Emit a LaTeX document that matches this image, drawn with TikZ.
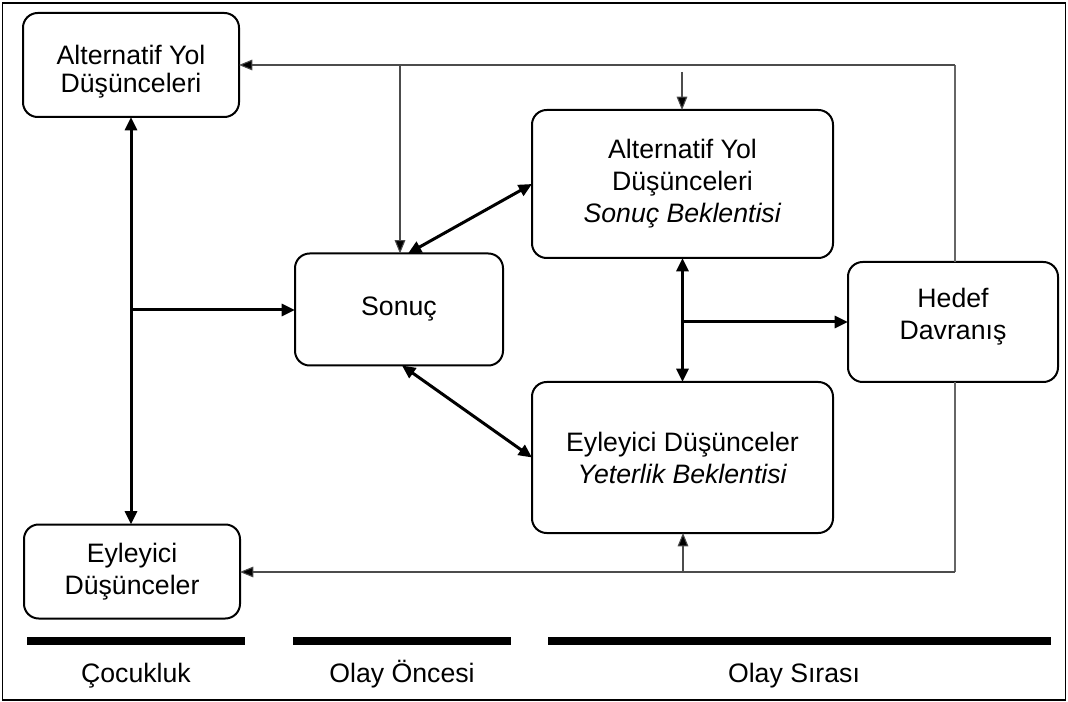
\documentclass[tikz,border=0pt]{standalone}
\usepackage{fontspec}
\setmainfont{Liberation Sans}
\usetikzlibrary{arrows.meta,calc}

\tikzset{
  box/.style={draw, line width=1.5pt, rounded corners=11pt, inner sep=0pt, outer sep=0pt,
              align=center, font=\fontsize{20}{24}\selectfont},
  thick link/.style={line width=2.25pt, {Triangle[length=10pt,width=9pt]}-{Triangle[length=10pt,width=9pt]}},
  thick one/.style={line width=2.25pt, -{Triangle[length=10pt,width=9pt]}},
  thin link/.style={line width=0.8pt, draw=black!70, -{Triangle[length=10pt,width=8pt,fill=black]}},
  thin line/.style={line width=0.8pt, draw=black!60},
  era bar/.style={line width=6pt},
  era label/.style={font=\fontsize{20}{24}\selectfont, anchor=base}
}

\begin{document}
\begin{tikzpicture}[x=0.75pt, y=-0.75pt]
  % canvas and frame
  \useasboundingbox (0,0) rectangle (1068,702);
  \draw[line width=1.2pt] (2.5,3) rectangle (1065.5,700);

  % boxes
  \node[box, minimum width=162pt, minimum height=78pt, font=\fontsize{20}{21}\selectfont] (ayd) at (131,65)
       {\rule{0pt}{24pt}Alternatif Yol\\Düşünceleri};
  \node[box, minimum width=162pt, minimum height=70.5pt] (ed) at (132,571.5) {Eyleyici\\Düşünceler};
  \node[box, minimum width=156pt, minimum height=84pt] (so) at (399,309.5) {Sonuç};
  \node[box, minimum width=225.75pt, minimum height=111pt] (ays) at (682.5,184)
       {Alternatif Yol\\Düşünceleri\\\textit{Sonuç Beklentisi}};
  \node[box, minimum width=225.75pt, minimum height=113.25pt] (edy) at (682.5,457.5)
       {Eyleyici Düşünceler\\\textit{Yeterlik Beklentisi}};
  \node[box, minimum width=157.5pt, minimum height=90pt] (hd) at (953,322)
       {Hedef\\Davranış\\[-12pt]};

  % feedback paths from the target behaviour
  \coordinate (topR) at (955,65);
  \coordinate (botR) at (955,572);
  \coordinate (topSo) at (400,65);
  \coordinate (topAys) at (682,72);
  \coordinate (botEdy) at (683,572);
  \draw[thin line] ($(hd.north)+(2,0)$) -- (topR);
  \draw[thin line] ($(hd.south)+(2,0)$) -- (botR);
  \draw[thin link] (topR) -- (ayd.east |- topR);
  \draw[thin link] (botR) -- (ed.east |- botR);
  \draw[thin link] (topSo) -- (so.north -| topSo);
  \draw[thin link] (topAys) -- (ays.north -| topAys);
  \draw[thin link] (botEdy) -- (edy.south -| botEdy);

  % main links
  \coordinate (j1) at (131,310);
  \coordinate (j2) at (682,322);
  \draw[thick link] (ayd.south) -- (ed.north -| ayd.south);
  \draw[thick one] (j1) -- (so.west |- j1);
  \draw[thick link] ($(so.north)+(9,0)$) -- (ays.west);
  \draw[thick link] ($(so.south)+(3,0)$) -- (edy.west);
  \draw[thick link] (ays.south) -- (edy.north);
  \draw[thick one] (j2) -- (hd.west |- j2);

  % time line
  \coordinate (b1a) at (27,641);  \coordinate (b1b) at (245,641);
  \coordinate (b2a) at (293,641); \coordinate (b2b) at (511,641);
  \coordinate (b3a) at (548,641); \coordinate (b3b) at (1051,641);
  \draw[era bar] (b1a) -- (b1b);
  \draw[era bar] (b2a) -- (b2b);
  \draw[era bar] (b3a) -- (b3b);
  \node[era label] (l1) at (136,682) {Çocukluk};
  \node[era label] (l2) at (402,682) {Olay Öncesi};
  \node[era label] (l3) at (794,682) {Olay Sırası};
\end{tikzpicture}
\end{document}
